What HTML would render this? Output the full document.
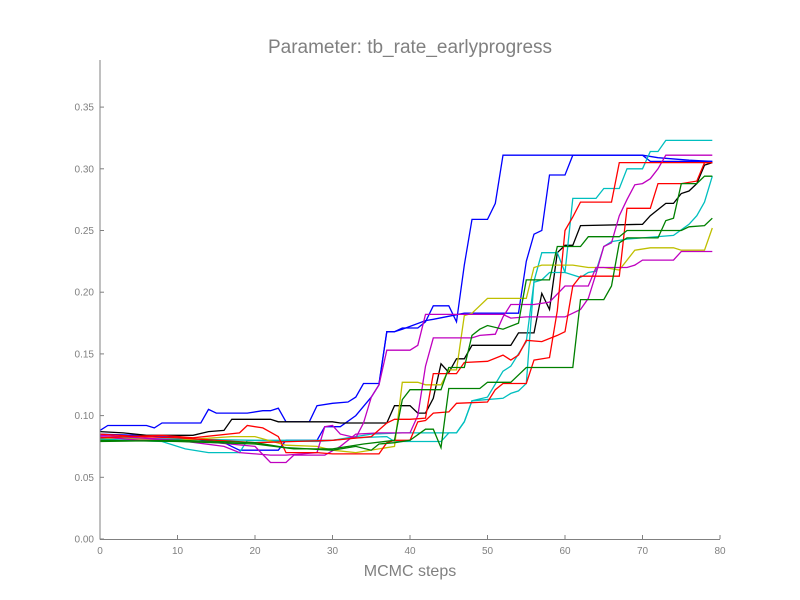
<!DOCTYPE html>
<html><head><meta charset="utf-8"><style>
body{margin:0;background:#fff;}
svg{display:block;font-family:"Liberation Sans",sans-serif;}
</style></head><body>
<svg id="chart" width="800" height="600">
<text x="410" y="53" text-anchor="middle" font-size="19" fill="#808080">Parameter: tb_rate_earlyprogress</text>
<text x="410" y="576" text-anchor="middle" font-size="16" fill="#808080">MCMC steps</text>
<g id="plot"></g>
<line x1="100" y1="60" x2="100" y2="539.5" stroke="#808080" stroke-width="1"/>
<line x1="100" y1="539.5" x2="720" y2="539.5" stroke="#808080" stroke-width="1"/>
<g id="ticks"></g>
</svg>
<script>
const xTicks=[0,10,20,30,40,50,60,70,80];
const yTicks=[0,0.05,0.10,0.15,0.20,0.25,0.30,0.35];
const yTickLabels=["0.00","0.05","0.10","0.15","0.20","0.25","0.30","0.35"];
const seriesColors=["#0000ff","#0000ff","#000000","#00bfbf","#00bfbf","#bfbf00","#bf00bf","#bf00bf","#ff0000","#ff0000","#008000","#008000"];
const blueA=[[0,.088],[1,.092],[6,.092],[7,.090],[8,.094],[13,.094],[14,.105],[15,.102],[19,.102],[21,.104],[22,.104],[23,.106],[24,.095],[27,.095],[28,.108],[30,.110],[32,.111],[33,.115],[34,.126],[36,.126],[37,.168],[38,.168],[39,.171],[41,.171],[42,.176],[43,.189],[45,.189],[46,.176],[47,.222],[48,.259],[50,.259],[51,.272],[52,.311],[70,.311],[71,.306],[79,.306]];
const blueB=[[0,.085],[10,.083],[16,.078],[18,.072],[23,.072],[24,.080],[28,.080],[29,.091],[31,.091],[33,.100],[35,.115],[36,.125],[37,.168],[38,.168],[39,.170],[42,.177],[43,.178],[47,.183],[54,.183],[55,.225],[56,.247],[57,.250],[58,.295],[60,.295],[61,.311],[70,.311],[72,.309],[76,.307],[79,.306]];
const black=[[0,.087],[3,.086],[6,.084],[12,.084],[14,.087],[16,.088],[17,.097],[22,.097],[23,.095],[30,.095],[31,.094],[37,.094],[38,.108],[40,.108],[41,.102],[42,.102],[43,.114],[44,.142],[45,.135],[46,.146],[47,.146],[48,.157],[53,.157],[54,.167],[56,.167],[57,.199],[58,.186],[59,.232],[60,.238],[61,.238],[62,.254],[70,.255],[71,.262],[73,.272],[74,.272],[75,.280],[76,.282],[77,.288],[78,.303],[79,.305]];
const cyanA=[[0,.081],[8,.079],[11,.073],[14,.070],[18,.070],[19,.080],[28,.079],[30,.080],[33,.082],[37,.083],[38,.079],[44,.079],[45,.086],[46,.086],[47,.095],[48,.112],[50,.115],[52,.136],[53,.140],[54,.150],[55,.160],[56,.208],[57,.210],[58,.216],[60,.216],[61,.276],[64,.276],[65,.284],[67,.284],[68,.300],[70,.300],[71,.314],[72,.314],[73,.323],[79,.323]];
const cyanB=[[0,.082],[10,.081],[20,.080],[30,.080],[35,.085],[39,.086],[46,.086],[47,.095],[48,.112],[52,.114],[53,.118],[54,.120],[55,.126],[56,.209],[57,.232],[59,.232],[60,.216],[62,.212],[63,.216],[64,.217],[65,.237],[66,.241],[68,.243],[70,.244],[74,.246],[76,.255],[77,.262],[78,.273],[79,.294]];
const yellow=[[0,.082],[10,.080],[17,.083],[20,.083],[24,.076],[28,.075],[30,.072],[33,.070],[38,.075],[39,.127],[41,.127],[42,.125],[44,.125],[45,.137],[46,.137],[47,.181],[48,.183],[50,.195],[55,.195],[56,.220],[57,.222],[61,.222],[63,.220],[65,.220],[67,.218],[69,.234],[71,.236],[74,.236],[75,.234],[78,.234],[79,.252]];
const magentaA=[[0,.084],[10,.080],[16,.075],[18,.070],[22,.068],[24,.068],[28,.070],[29,.091],[30,.092],[31,.085],[33,.082],[34,.094],[35,.115],[36,.125],[37,.153],[40,.153],[41,.157],[42,.182],[52,.182],[53,.179],[55,.180],[60,.180],[61,.183],[62,.186],[63,.195],[64,.215],[65,.237],[66,.240],[67,.262],[68,.275],[69,.287],[70,.288],[71,.292],[72,.300],[73,.311],[79,.311]];
const magentaB=[[0,.083],[5,.080],[10,.080],[15,.078],[20,.075],[22,.062],[24,.062],[25,.068],[29,.068],[31,.075],[33,.085],[36,.086],[40,.086],[41,.100],[42,.140],[43,.163],[48,.163],[49,.165],[51,.166],[52,.180],[53,.190],[56,.190],[58,.192],[60,.205],[63,.205],[64,.220],[68,.220],[69,.222],[70,.226],[74,.226],[75,.233],[79,.233]];
const redA=[[0,.082],[8,.084],[12,.082],[18,.086],[19,.092],[21,.090],[23,.083],[24,.070],[28,.070],[30,.069],[36,.069],[37,.078],[38,.080],[40,.080],[41,.095],[42,.096],[43,.102],[45,.103],[46,.110],[50,.111],[51,.121],[52,.126],[55,.126],[56,.145],[58,.147],[59,.185],[60,.250],[61,.261],[62,.273],[66,.273],[67,.305],[79,.305]];
const redB=[[0,.085],[5,.083],[10,.082],[15,.080],[20,.078],[25,.079],[30,.080],[35,.083],[37,.094],[38,.097],[40,.097],[42,.098],[43,.134],[46,.134],[47,.143],[50,.144],[52,.149],[53,.145],[54,.149],[55,.161],[57,.160],[59,.165],[60,.168],[61,.205],[62,.213],[67,.213],[68,.268],[71,.268],[72,.288],[75,.288],[77,.290],[78,.305],[79,.305]];
const greenA=[[0,.079],[10,.080],[20,.078],[24,.074],[30,.072],[33,.075],[35,.072],[36,.077],[38,.078],[40,.080],[42,.089],[43,.089],[44,.074],[45,.122],[49,.122],[50,.127],[53,.127],[55,.139],[61,.139],[62,.194],[65,.194],[66,.205],[67,.240],[68,.244],[72,.244],[73,.258],[74,.260],[75,.288],[77,.288],[78,.294],[79,.294]];
const greenB=[[0,.080],[10,.079],[20,.077],[25,.073],[30,.073],[34,.077],[38,.080],[39,.113],[40,.121],[44,.121],[45,.139],[47,.139],[48,.165],[49,.170],[50,.173],[52,.170],[54,.175],[55,.210],[58,.210],[59,.237],[62,.237],[63,.245],[67,.245],[68,.250],[75,.250],[76,.253],[78,.254],[79,.260]];
const seriesNames=["blue-a","blue-b","black","cyan-a","cyan-b","yellow","magenta-a","magenta-b","red-a","red-b","green-a","green-b"];
const allSeries=[blueA,blueB,black,cyanA,cyanB,yellow,magentaA,magentaB,redA,redB,greenA,greenB];

const NS="http://www.w3.org/2000/svg";
const X0=100,X1=720,XMAX=80,Y0=539,YPER=1234;
function sx(v){return X0+v*(X1-X0)/XMAX;}
function sy(v){return Y0-v*YPER;}
const plot=document.getElementById('plot');
allSeries.forEach((s,i)=>{
  const p=document.createElementNS(NS,'polyline');
  p.setAttribute('points',s.map(d=>sx(d[0]).toFixed(1)+','+sy(d[1]).toFixed(1)).join(' '));
  p.setAttribute('fill','none');
  p.setAttribute('stroke',seriesColors[i]);
  p.setAttribute('stroke-width','1.3');
  
  
  plot.appendChild(p);
});
const ticks=document.getElementById('ticks');
xTicks.forEach(t=>{
  const l=document.createElementNS(NS,'line');
  l.setAttribute('x1',sx(t));l.setAttribute('x2',sx(t));
  l.setAttribute('y1',539);l.setAttribute('y2',535);
  l.setAttribute('stroke','#808080');
  
  
  ticks.appendChild(l);
  const tx=document.createElementNS(NS,'text');
  tx.setAttribute('x',sx(t));tx.setAttribute('y',554);
  tx.setAttribute('text-anchor','middle');tx.setAttribute('font-size','10');tx.setAttribute('fill','#808080');
  tx.textContent=t;
  
  
  ticks.appendChild(tx);
});
yTicks.forEach((t,i)=>{
  const l=document.createElementNS(NS,'line');
  l.setAttribute('x1',100);l.setAttribute('x2',104);
  l.setAttribute('y1',sy(t));l.setAttribute('y2',sy(t));
  l.setAttribute('stroke','#808080');
  
  
  ticks.appendChild(l);
  const tx=document.createElementNS(NS,'text');
  tx.setAttribute('x',94);tx.setAttribute('y',sy(t)+3.5);
  tx.setAttribute('text-anchor','end');tx.setAttribute('font-size','10');tx.setAttribute('fill','#808080');
  tx.textContent=yTickLabels[i];
  
  
  ticks.appendChild(tx);
});
</script>
</body></html>
